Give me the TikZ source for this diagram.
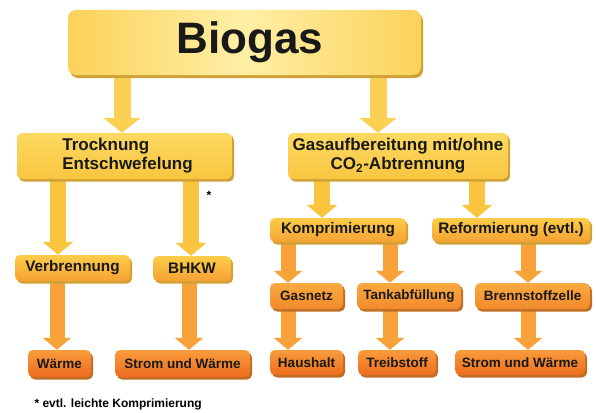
\documentclass[tikz,border=0pt]{standalone}
\usepackage{fontspec}
\setmainfont{Liberation Sans}
\usetikzlibrary{arrows.meta, shadows, backgrounds}

\definecolor{bioEdge}{HTML}{FBD25A}
\definecolor{bioLight}{HTML}{FFEFA6}
\definecolor{yelTop}{HTML}{FCD962}
\definecolor{yelBot}{HTML}{F9C640}
\definecolor{midTop}{HTML}{FBCD48}
\definecolor{midBot}{HTML}{F6A234}
\definecolor{orTop}{HTML}{F9AA40}
\definecolor{orBot}{HTML}{F28A2C}
\definecolor{redTop}{HTML}{F89C3C}
\definecolor{redBot}{HTML}{EE6C1E}
\definecolor{shadeYel}{HTML}{CFA136}
\definecolor{shadeOr}{HTML}{BF6E26}
\definecolor{arrYel}{HTML}{FBD154}
\definecolor{arrMid}{HTML}{FAC43E}
\definecolor{arrOr}{HTML}{F8A23A}

\begin{document}
\begin{tikzpicture}[
  x=1pt, y=-1pt,
  box/.style={rounded corners=5pt, inner sep=0pt, align=center,
    text=black!90, font=\bfseries},
  rootbox/.style={box, left color=bioEdge, right color=bioEdge,
    middle color=bioLight, rounded corners=8pt,
    drop shadow={shadow xshift=2pt, shadow yshift=-3pt, fill=shadeYel, opacity=1},
    font=\bfseries\fontsize{44}{44}\selectfont},
  stagebox/.style={box, top color=yelTop, bottom color=yelBot,
    drop shadow={shadow xshift=2pt, shadow yshift=-2.5pt, fill=shadeYel, opacity=1},
    font=\bfseries\fontsize{17}{19}\selectfont},
  subbox/.style={box, top color=midTop, bottom color=midBot,
    drop shadow={shadow xshift=2pt, shadow yshift=-2.5pt, fill=shadeYel, opacity=1},
    font=\bfseries\fontsize{15.3}{17}\selectfont},
  leafbox/.style={box, top color=orTop, bottom color=orBot,
    drop shadow={shadow xshift=2pt, shadow yshift=-2.5pt, fill=shadeOr, opacity=1},
    font=\bfseries\fontsize{13.5}{15}\selectfont},
  endbox/.style={box, top color=redTop, bottom color=redBot,
    drop shadow={shadow xshift=2pt, shadow yshift=-2.5pt, fill=shadeOr, opacity=1},
    font=\bfseries\fontsize{13.5}{15}\selectfont},
  flowbig/.style={draw=arrYel, line width=17pt,
    -{Triangle[width=37pt, length=15pt, fill=arrYel]}},
  flowmid/.style={draw=arrMid, line width=16pt,
    -{Triangle[width=30pt, length=13pt, fill=arrMid]}},
  flowlow/.style={draw=arrOr, line width=15pt,
    -{Triangle[width=28pt, length=12pt, fill=arrOr]}},
]
  \useasboundingbox (0,0) rectangle (596,412);

  % top level
  \node[rootbox, minimum width=353pt, minimum height=65pt] (biogas) at (244.5,42.5)
    {\hspace*{11pt}Biogas};

  % treatment
  \node[stagebox, minimum width=215pt, minimum height=46pt, align=left] (troc) at (124.5,156)
    {\hspace*{6pt}Trocknung\\\hspace*{6pt}Entschwefelung};
  \node[stagebox, minimum width=220pt, minimum height=46pt] (gas) at (398,156)
    {Gasaufbereitung mit/ohne\\CO\textsubscript{2}-Abtrennung};

  % use paths
  \node[subbox, minimum width=115pt, minimum height=26pt] (verb) at (72.5,268) {Verbrennung};
  \node[subbox, minimum width=78pt, minimum height=25pt] (bhkw) at (192,268.5) {BHKW};
  \node[subbox, minimum width=136pt, minimum height=24pt] (kompr) at (338,230) {Komprimierung};
  \node[subbox, minimum width=158pt, minimum height=24pt] (reform) at (511,230) {Reformierung (evtl.)};

  \node[leafbox, minimum width=73pt, minimum height=26pt] (gasnetz) at (306.5,296) {Gasnetz};
  \node[leafbox, minimum width=104pt, minimum height=26pt] (tank) at (409,296) {Tankabfüllung};
  \node[leafbox, minimum width=115pt, minimum height=26pt] (brenn) at (532.5,296) {Brennstoffzelle};

  % end uses
  \node[endbox, minimum width=63pt, minimum height=27pt] (waerme) at (59.5,363.5) {Wärme};
  \node[endbox, minimum width=135pt, minimum height=27pt] (stromL) at (182.5,363.5) {Strom und Wärme};
  \node[endbox, minimum width=73pt, minimum height=25pt] (haus) at (306.5,362.5) {Haushalt};
  \node[endbox, minimum width=78pt, minimum height=25pt] (treib) at (397,362.5) {Treibstoff};
  \node[endbox, minimum width=130pt, minimum height=25pt] (stromR) at (520,362.5) {Strom und Wärme};

  % notes
  \node[font=\bfseries\fontsize{12}{12}\selectfont] (star) at (209,195) {*};
  \node[anchor=west, font=\bfseries\fontsize{12}{12}\selectfont] (note) at (31,404)
    {* evtl. leichte Komprimierung};

  % arrows
  \begin{scope}[on background layer]
    \foreach \a/\b/\s in {biogas/troc/-2.5, biogas/gas/-20}{
      \draw[flowbig] ([xshift=\s pt, yshift=4pt]\b.north |- \a.south) -- ([xshift=\s pt]\b.north);
    }
    \foreach \a/\b/\s in {troc/verb/-14.5, troc/bhkw/-1, gas/kompr/-16, gas/reform/-34}{
      \draw[flowmid] ([xshift=\s pt, yshift=4pt]\b.north |- \a.south) -- ([xshift=\s pt]\b.north);
    }
    \foreach \a/\b/\s in {verb/waerme/-2.5, bhkw/stromL/6.5, kompr/gasnetz/-18.5,
        kompr/tank/-19, gasnetz/haus/-18.5, tank/treib/-7, reform/brenn/-4.5,
        brenn/stromR/8}{
      \draw[flowlow] ([xshift=\s pt, yshift=4pt]\b.north |- \a.south) -- ([xshift=\s pt]\b.north);
    }
  \end{scope}
\end{tikzpicture}
\end{document}
